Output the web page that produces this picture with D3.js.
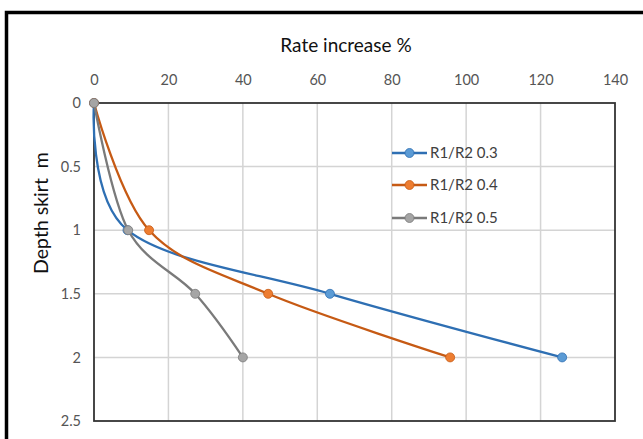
<!DOCTYPE html>
<html>
<head>
<meta charset="utf-8">
<script src="https://cdn.jsdelivr.net/npm/d3@7"></script>
<style>
  html, body { margin: 0; padding: 0; background: #fff; }
  svg { display: block; }
  text { font-family: Lato, "Open Sans", sans-serif; }
</style>
</head>
<body>
<svg id="chart" width="643" height="439"></svg>
<script>
// Depth of skirt (m) against rate increase (%) for three R1/R2 ratios
const depths = [0, 1, 1.5, 2];
const seriesNames = ["R1/R2 0.3", "R1/R2 0.4", "R1/R2 0.5"];
const rateR03 = [0, 9, 63.4, 125.8];
const rateR04 = [0, 14.8, 46.8, 95.7];
const rateR05 = [0, 9.2, 27.2, 40];
const xTicks = [0, 20, 40, 60, 80, 100, 120, 140];
const yTicks = [0, 0.5, 1, 1.5, 2, 2.5];

const lineColors = ["#2E6FB3", "#C65A14", "#7A7A7A"];
const markerColors = ["#5B9BD5", "#ED7D31", "#A5A5A5"];

const series = [rateR03, rateR04, rateR05].map((vals, i) => ({
  name: seriesNames[i],
  points: vals.map((v, j) => ({ x: v, y: depths[j] })),
  line: lineColors[i],
  marker: markerColors[i]
}));

const svg = d3.select("#chart");
const plot = { left: 94, right: 615, top: 103, bottom: 421 };

const x = d3.scaleLinear().domain([0, 140]).range([plot.left, plot.right]);
const y = d3.scaleLinear().domain([0, 2.5]).range([plot.top, plot.bottom]);

// outer frame (runs off the right and bottom edges)
svg.append("rect")
  .attr("x", 6.5).attr("y", 12.5)
  .attr("width", 700).attr("height", 500)
  .attr("fill", "none").attr("stroke", "#000").attr("stroke-width", 3.5);

// gridlines
const grid = svg.append("g");
grid.selectAll("line.v").data(xTicks.slice(1, -1)).join("line")
  .attr("x1", d => x(d)).attr("x2", d => x(d))
  .attr("y1", plot.top).attr("y2", plot.bottom)
  .attr("stroke", "#D4D4D4").attr("stroke-width", 1.5);
grid.selectAll("line.h").data(yTicks.slice(1, -1)).join("line")
  .attr("x1", plot.left).attr("x2", plot.right)
  .attr("y1", d => y(d)).attr("y2", d => y(d))
  .attr("stroke", "#D4D4D4").attr("stroke-width", 1.5);

// plot border
svg.append("rect")
  .attr("x", plot.left).attr("y", plot.top)
  .attr("width", plot.right - plot.left).attr("height", plot.bottom - plot.top)
  .attr("fill", "none").attr("stroke", "#333").attr("stroke-width", 1.8);

// axes (labels only, ticks hidden)
const xAxis = d3.axisTop(x).tickValues(xTicks).tickSize(0).tickPadding(0);
const gx = svg.append("g").attr("transform", `translate(0,${plot.top - 18})`).call(xAxis);
gx.select(".domain").remove();
gx.selectAll("text").attr("font-size", 14.5).attr("fill", "#555")
  .attr("font-family", "Lato, 'Open Sans', sans-serif").attr("dy", 0);

const yAxis = d3.axisLeft(y).tickValues(yTicks).tickSize(0).tickPadding(0)
  .tickFormat(d3.format("~g"));
const gy = svg.append("g").attr("transform", `translate(${plot.left - 13},0)`).call(yAxis);
gy.select(".domain").remove();
gy.selectAll("text").attr("font-size", 14.5).attr("fill", "#555")
  .attr("font-family", "Lato, 'Open Sans', sans-serif");

// titles
svg.append("text")
  .attr("x", 346).attr("y", 52)
  .attr("text-anchor", "middle")
  .attr("font-size", 19).attr("fill", "#111")
  .text("Rate increase %");

svg.append("text")
  .attr("transform", "translate(48,213) rotate(-90)")
  .attr("text-anchor", "middle")
  .attr("font-size", 19.5).attr("fill", "#111")
  .attr("xml:space", "preserve")
  .style("white-space", "pre")
  .text("Depth skirt  m");

// series: smoothed lines with markers
const line = d3.line()
  .x(d => x(d.x)).y(d => y(d.y))
  .curve(d3.curveCardinal.tension(0));

series.forEach(s => {
  const g = svg.append("g");
  g.append("path")
    .attr("d", line(s.points))
    .attr("fill", "none").attr("stroke", s.line).attr("stroke-width", 2.3);
  g.selectAll("circle").data(s.points).join("circle")
    .attr("cx", d => x(d.x)).attr("cy", d => y(d.y)).attr("r", 4.5)
    .attr("fill", s.marker).attr("stroke", s.line).attr("stroke-width", 0.8);
});

// legend
const legend = svg.append("g");
const legendY = [153, 185, 218];
series.forEach((s, i) => {
  const row = legend.append("g").attr("transform", `translate(392,${legendY[i]})`);
  row.append("line").attr("x1", 0).attr("x2", 35).attr("y1", 0).attr("y2", 0)
    .attr("stroke", s.line).attr("stroke-width", 2.3);
  row.append("circle").attr("cx", 17.5).attr("cy", 0).attr("r", 4.5)
    .attr("fill", s.marker).attr("stroke", s.line).attr("stroke-width", 0.8);
  row.append("text").attr("x", 38).attr("y", 0).attr("dy", "0.35em")
    .attr("font-size", 15).attr("fill", "#404040").text(s.name);
});
</script>
</body>
</html>
